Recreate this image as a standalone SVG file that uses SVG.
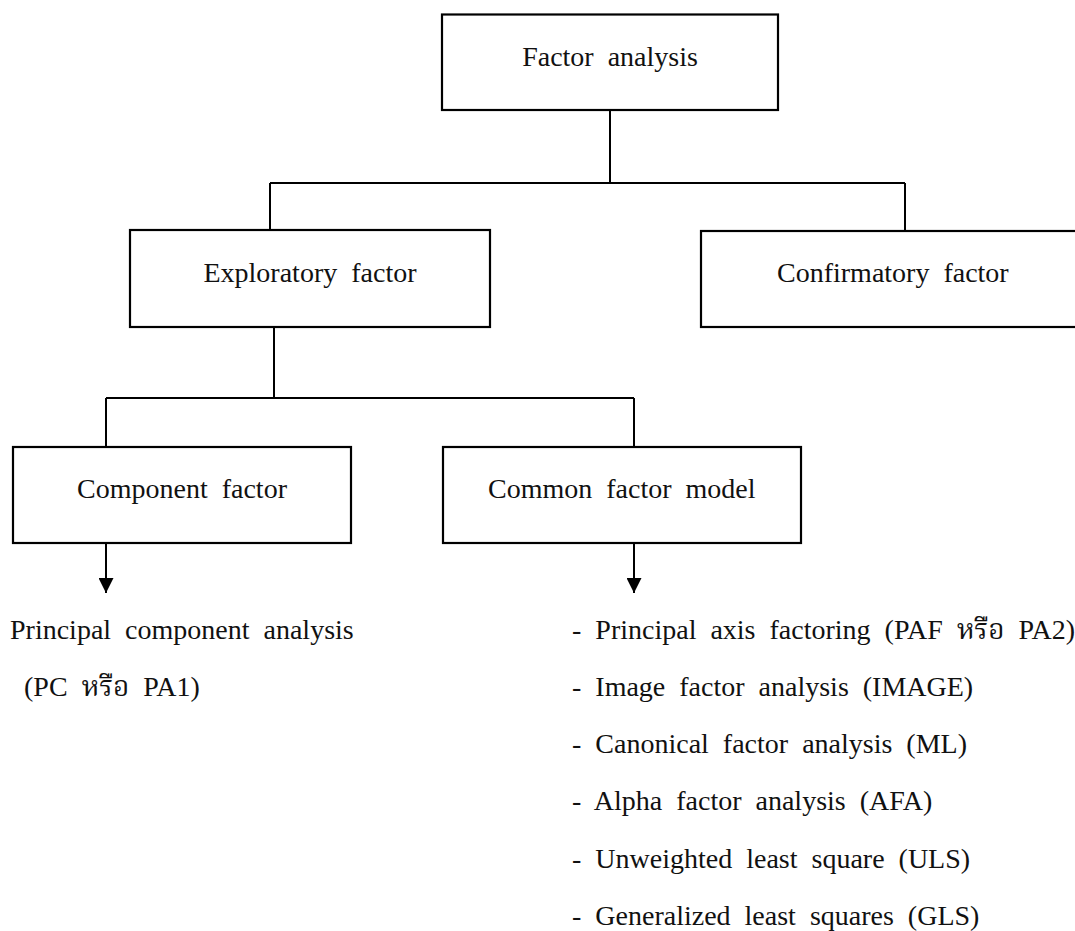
<svg xmlns="http://www.w3.org/2000/svg" width="1075" height="931" viewBox="0 0 1075 931">
  <style>
    .box { fill: #ffffff; stroke: #000000; stroke-width: 2.2; }
    .wire { fill: none; stroke: #000000; stroke-width: 2; }
    .lbl { font-family: "Liberation Serif", "Noto Serif Thai", "Noto Sans Thai", serif; font-size: 28px; fill: #111111; white-space: pre; }
    .mid { text-anchor: middle; }
  </style>
  <defs>
    <marker id="arrow" viewBox="0 0 10 10" refX="10" refY="5" markerWidth="15" markerHeight="15" markerUnits="userSpaceOnUse" orient="auto">
      <path d="M0,0 L10,5 L0,10 Z" fill="#000000"/>
    </marker>
  </defs>
  <rect width="1075" height="931" fill="#ffffff"/>

  <!-- connectors -->
  <g id="connectors">
    <path class="wire" d="M610,110 V183 M270,183 H905 M270,183 V230 M905,183 V231"/>
    <path class="wire" d="M274,327 V398 M106,398 H634 M106,398 V447 M634,398 V447"/>
    <path class="wire" d="M106,543 V593" marker-end="url(#arrow)"/>
    <path class="wire" d="M634,543 V593" marker-end="url(#arrow)"/>
  </g>

  <g id="node-factor-analysis">
    <rect class="box" x="442" y="14.5" width="336" height="95.5"/>
    <text class="lbl mid" x="610" y="66">Factor  analysis</text>
  </g>

  <g id="node-exploratory">
    <rect class="box" x="130" y="230" width="360" height="97"/>
    <text class="lbl mid" x="310" y="282">Exploratory  factor</text>
  </g>

  <g id="node-confirmatory">
    <rect class="box" x="701" y="231" width="380" height="96"/>
    <text class="lbl" x="777" y="282">Confirmatory  factor</text>
  </g>

  <g id="node-component">
    <rect class="box" x="13" y="447" width="338" height="96"/>
    <text class="lbl mid" x="182" y="498">Component  factor</text>
  </g>

  <g id="node-common">
    <rect class="box" x="443" y="447" width="358" height="96"/>
    <text class="lbl" x="488" y="498">Common  factor  model</text>
  </g>

  <g id="list-component">
    <text class="lbl" x="10" y="639">Principal  component  analysis</text>
    <text class="lbl" x="24" y="696">(PC  หรือ  PA1)</text>
  </g>

  <g id="list-common">
    <text class="lbl" x="572" y="639">-  Principal  axis  factoring  (PAF  หรือ  PA2)</text>
    <text class="lbl" x="572" y="696">-  Image  factor  analysis  (IMAGE)</text>
    <text class="lbl" x="572" y="753">-  Canonical  factor  analysis  (ML)</text>
    <text class="lbl" x="572" y="810">-  Alpha  factor  analysis  (AFA)</text>
    <text class="lbl" x="572" y="868">-  Unweighted  least  square  (ULS)</text>
    <text class="lbl" x="572" y="925">-  Generalized  least  squares  (GLS)</text>
  </g>
</svg>
